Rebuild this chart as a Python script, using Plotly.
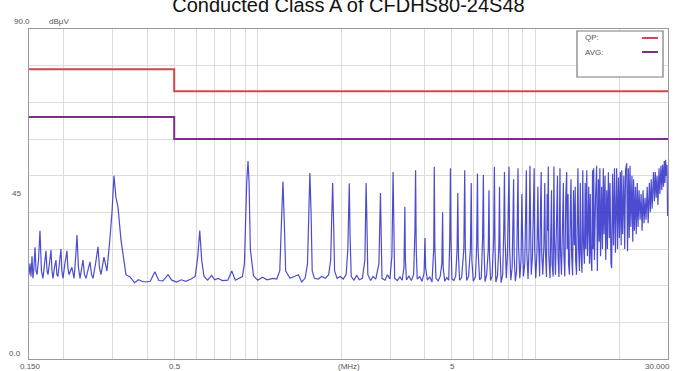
import math
import plotly.graph_objects as go

TITLE = "Conducted Class A of CFDHS80-24S48"

# Measured conducted emission spectrum, 0.15 - 0.33 MHz (MHz, dBuV)
LOW_BAND_FREQ = [
    0.150, 0.1512, 0.1525, 0.1538, 0.155, 0.1563, 0.1577, 0.159, 0.1603, 0.1623,
    0.1643, 0.1663, 0.1684, 0.1705, 0.1727, 0.1742, 0.1756, 0.178, 0.180, 0.1815,
    0.183, 0.1853, 0.1876, 0.189, 0.1907, 0.193, 0.1955, 0.197, 0.1988, 0.202,
    0.2055, 0.207, 0.209, 0.214, 0.218, 0.221, 0.2233, 0.226, 0.229, 0.2347,
    0.2376, 0.2406, 0.2446, 0.2487, 0.252, 0.255, 0.2605, 0.2658, 0.269, 0.2724,
    0.2793, 0.2863, 0.2936, 0.2985, 0.3034, 0.3085, 0.3137, 0.3216,
]
LOW_BAND_LEVEL = [
    23, 26, 22.5, 28, 22, 25, 30.5, 24, 23, 27,
    35, 24, 22, 26, 29.5, 24, 23, 26.5, 29.7, 24,
    22, 25, 27, 23, 22.5, 26, 30, 24, 22, 26,
    29.5, 25, 23, 25, 22, 28, 33.8, 25, 22, 27,
    23, 22, 24, 26.5, 23, 22, 26, 30.6, 25, 23,
    27.8, 24, 33, 40, 50, 44, 41.5, 32.5,
]

# Measured conducted emission spectrum, 0.33 - 30 MHz (MHz, dBuV)
HIGH_BAND_FREQ = [
    0.3351, 0.3466, 0.360, 0.372, 0.382,
    0.395, 0.410, 0.426, 0.440, 0.455, 0.475, 0.490, 0.510, 0.530, 0.550,
    0.575, 0.595, 0.608, 0.618, 0.628, 0.640, 0.660, 0.682, 0.700, 0.720,
    0.745, 0.780, 0.806, 0.830, 0.855, 0.880, 0.895, 0.905, 0.912, 0.922,
    0.930, 0.940, 0.950, 0.965, 1.000, 1.040, 1.080, 1.134, 1.170, 1.200,
    1.215, 1.232, 1.245, 1.260, 1.306, 1.350, 1.400, 1.439, 1.480, 1.510,
    1.525, 1.540, 1.555, 1.570, 1.600, 1.650, 1.700, 1.750, 1.800, 1.830,
    1.845, 1.860, 1.875, 1.890, 1.930, 1.980, 2.030, 2.080, 2.110, 2.135,
    2.150, 2.170, 2.220, 2.270, 2.320, 2.380, 2.430, 2.455, 2.470, 2.490,
    2.550, 2.600, 2.660, 2.730, 2.765, 2.780, 2.800, 2.870, 2.930, 2.990,
    3.040, 3.070, 3.090, 3.110, 3.180, 3.250, 3.310, 3.360, 3.385, 3.400,
    3.430, 3.500, 3.570, 3.640, 3.680, 3.700, 3.720, 3.750, 3.830, 3.900,
    3.970, 4.000, 4.020, 4.080, 4.160, 4.240, 4.300, 4.320, 4.340, 4.380,
    4.460, 4.540, 4.600, 4.630, 4.650, 4.710, 4.790, 4.870, 4.910, 4.940,
    4.960, 5.000, 5.080, 5.160, 5.220, 5.250, 5.280, 5.330, 5.420, 5.520,
    5.560, 5.590, 5.650, 5.740, 5.830, 5.870, 5.900, 5.970, 6.080, 6.140,
    6.180, 6.210, 6.290, 6.380, 6.450, 6.490, 6.520, 6.580, 6.670, 6.760,
    6.800, 6.830, 6.890, 6.980, 7.070, 7.110, 7.150, 7.200, 7.300, 7.380,
    7.420, 7.450, 7.520, 7.620, 7.690, 7.730, 7.770, 7.850, 7.920, 7.980,
    8.030, 8.070, 8.150, 8.240, 8.300, 8.340, 8.380, 8.460, 8.550, 8.620,
    8.650, 8.690, 8.780, 8.870, 8.930, 8.970, 9.050, 9.150, 9.230, 9.270,
    9.310, 9.400, 9.480, 9.550, 9.590, 9.650, 9.750, 9.850, 9.890, 9.930,
    10.02, 10.12, 10.20, 10.25, 10.35, 10.42, 10.48, 10.53, 10.62, 10.72,
    10.80, 10.85, 10.95, 11.02, 11.06, 11.12, 11.17, 11.28, 11.36, 11.42,
    11.47, 11.58, 11.65, 11.70, 11.80, 11.90, 12.00, 12.05, 12.15, 12.25,
    12.30, 12.40, 12.50, 12.60, 12.65, 12.75, 12.85, 12.95, 13.00, 13.10,
    13.15, 13.25, 13.35, 13.42, 13.50, 13.60, 13.70, 13.80, 13.90, 13.95,
    14.05, 14.15, 14.22, 14.30, 14.40, 14.50, 14.58, 14.70, 14.80, 14.88,
    15.00, 15.10, 15.18, 15.30, 15.38, 15.50, 15.55, 15.65, 15.75, 15.82,
    15.95, 16.05, 16.12, 16.20, 16.30, 16.45, 16.60, 16.70, 16.85, 16.95,
    17.05, 17.15, 17.30, 17.42, 17.55, 17.65, 17.80, 17.90, 18.05, 18.15,
    18.30, 18.45, 18.55, 18.70, 18.80, 18.95, 19.10, 19.25, 19.40, 19.60,
    19.75, 19.90, 20.05, 20.20, 20.35, 20.45, 20.60, 20.80, 20.95, 21.10,
    21.30, 21.45, 21.60, 21.75, 21.90, 22.05, 22.25, 22.40, 22.55, 22.70,
    22.90, 23.05, 23.25, 23.40, 23.60, 23.80, 24.00, 24.20, 24.40, 24.60,
    24.80, 25.00, 25.25, 25.45, 25.70, 25.90, 26.10, 26.30, 26.60, 26.80,
    27.00, 27.20, 27.40, 27.60, 27.85, 28.05, 28.30, 28.50, 28.70, 28.90,
    29.10, 29.25, 29.40, 29.60, 29.75, 29.90,
]
HIGH_BAND_LEVEL = [
    23, 22.4, 20.8, 21.6, 21.2,
    21.0, 21.2, 23.8, 21.4, 21.3, 23, 21.5, 21, 21.6, 21.2,
    21.8, 22.5, 28, 35, 27, 22.5, 21.5, 22.8, 21.6, 22,
    21.4, 21.5, 24, 21.5, 22, 22.5, 26, 42, 48, 54,
    48.4, 30, 26.5, 22.7, 21.5, 22.3, 21.6, 22, 21.8, 24,
    36, 48.4, 38, 24, 22, 22.5, 23, 21, 22, 26,
    38, 50.7, 40, 24, 22, 21.8, 22.5, 22, 23, 27,
    38, 48, 37, 24, 22, 22.5, 21.8, 23, 30, 47.9,
    33, 22.5, 21.5, 22.8, 21.6, 22, 27, 48, 38, 23,
    21.4, 22.5, 21.8, 26, 45.3, 33, 22, 21.5, 23, 21.8,
    28, 51, 34, 22, 21.4, 22.4, 21.5, 25, 41.5, 27,
    21.6, 22.6, 21.4, 23, 35, 51.5, 30, 21.8, 22.5, 21.2,
    23.4, 33, 25, 21.5, 22.4, 21, 30, 52.4, 31, 22,
    21.3, 22.6, 26, 40, 25, 21.2, 22.2, 21.5, 32, 52,
    33, 21.8, 21.4, 22.6, 30, 45.3, 28, 21.5, 22.2, 30,
    51.5, 30, 21.4, 22.5, 30, 48, 27, 21.2, 22.4, 31,
    50.6, 30, 21.6, 22.2, 33, 50.2, 31, 21.1, 23, 30,
    46, 28, 21.4, 22.6, 33, 52.4, 30, 21, 22.8, 31,
    47, 30, 20.8, 23, 36, 51, 33, 22, 28, 42,
    52.4, 30, 21.5, 25, 38, 49, 28, 21.2, 24, 44,
    52, 31, 22, 27, 45, 36, 22.5, 26, 46, 51.5,
    29, 21.8, 30, 52.7, 40, 23, 28, 49, 52, 30,
    22, 29, 47, 33, 22.5, 40, 51, 29, 23, 31,
    48, 30, 22.4, 45, 35, 52.5, 28, 22, 40, 46,
    26, 22.5, 52.5, 33, 23, 35, 50, 28, 22.4, 52,
    30, 23, 37, 48, 29, 22.5, 44, 51, 30, 45,
    26, 23, 41, 49, 28, 22.8, 46, 31, 47, 27,
    23, 44, 52, 30, 24, 48, 29, 23.5, 51.5, 32,
    26, 48, 30, 51.5, 28, 40, 47, 26, 45, 29,
    24, 51.5, 30, 52, 27, 44, 52.7, 24, 49, 32,
    52, 28, 47, 30, 52, 34, 50, 27, 46, 30,
    50.9, 33, 48, 26, 24.8, 50.5, 31, 52, 29, 52,
    30, 49.5, 33, 51, 31, 51.5, 34, 50, 30, 51.5,
    53.4, 29.4, 52, 33, 52.7, 36, 50, 32, 49, 35,
    47, 34, 48, 36, 46, 38, 45, 35, 46, 37,
    44, 38, 47, 37, 48, 40, 49, 41, 51, 43,
    51, 44, 50, 42, 52, 45, 52.7, 46, 53, 47,
    54, 48, 54.3, 50, 53, 39,
]

# Limit lines
QP_FREQ = [0.15, 0.5, 0.5, 30.0]
QP_LIMIT = [79, 79, 73, 73]
AVG_FREQ = [0.15, 0.5, 0.5, 30.0]
AVG_LIMIT = [66, 66, 60, 60]

X_TICK_VALUES = [0.15, 0.5, 5, 30]
X_TICK_TEXT = ["0.150", "0.5", "5", "30.000"]
Y_TICK_VALUES = [90, 45, 0]
Y_TICK_TEXT = ["90.0", "45", "0.0"]
Y_UNIT = "dBμV"
X_UNIT = "(MHz)"

QP_COLOR = "rgb(212,70,72)"
AVG_COLOR = "rgb(126,46,138)"
TRACE_COLOR = "rgba(45,45,200,0.85)"
GRID_COLOR = "#dcdcdc"
LABEL_FONT = dict(family="Liberation Sans, Arial, sans-serif", size=8, color="#555555")

W, H = 681, 371
ML, MR, MT, MB = 29, 13, 29, 12
PW, PH = W - ML - MR, H - MT - MB


def px_x(p):
    return (p - ML) / PW


def px_y(p):
    return (H - MB - p) / PH


freq = LOW_BAND_FREQ + HIGH_BAND_FREQ
level = LOW_BAND_LEVEL + HIGH_BAND_LEVEL

fig = go.Figure()
fig.add_trace(go.Scatter(x=freq, y=level, mode="lines",
                         line=dict(color=TRACE_COLOR, width=1.2), name="Scan",
                         showlegend=False))
fig.add_trace(go.Scatter(x=QP_FREQ, y=QP_LIMIT, mode="lines",
                         line=dict(color=QP_COLOR, width=2), name="QP",
                         showlegend=False))
fig.add_trace(go.Scatter(x=AVG_FREQ, y=AVG_LIMIT, mode="lines",
                         line=dict(color=AVG_COLOR, width=2), name="AVG",
                         showlegend=False))

annotations = []
# y-axis labels
y_shift = {90: 8, 45: 1, 0: 6}
y_right = {90: 32, 45: 23, 0: 23}
for v, t in zip(Y_TICK_VALUES, Y_TICK_TEXT):
    annotations.append(dict(x=px_x(y_right[v]), xref="paper", y=v, yref="y",
                            text=t, showarrow=False, xanchor="right",
                            yanchor="middle", yshift=y_shift[v], font=LABEL_FONT))
annotations.append(dict(x=px_x(47), xref="paper", y=90, yref="y", text=Y_UNIT,
                        showarrow=False, xanchor="left", yanchor="middle",
                        yshift=8, font=LABEL_FONT))
# x-axis labels
for v, t in zip(X_TICK_VALUES, X_TICK_TEXT):
    anchor = "right" if v == X_TICK_VALUES[-1] else "center"
    shift = 4 if v == X_TICK_VALUES[-1] else 1
    annotations.append(dict(x=math.log10(v), xref="x", y=0, yref="paper",
                            text=t, showarrow=False, xanchor=anchor,
                            yanchor="top", xshift=shift, yshift=-1, font=LABEL_FONT))
annotations.append(dict(x=0.5, xref="paper", y=0, yref="paper", text=X_UNIT,
                        showarrow=False, xanchor="center", yanchor="top",
                        yshift=-1, font=LABEL_FONT))
# legend entries
for name, ypx in (("QP:", 38), ("AVG:", 52)):
    annotations.append(dict(x=px_x(583), xref="paper", y=px_y(ypx), yref="paper",
                            text=name, showarrow=False, xanchor="left",
                            yanchor="middle", font=LABEL_FONT))

shapes = [
    dict(type="rect", xref="paper", yref="paper", x0=px_x(577), x1=px_x(663),
         y0=px_y(77), y1=px_y(31), line=dict(color="#7a7a7a", width=1.2),
         fillcolor="white", layer="above"),
    dict(type="line", xref="paper", yref="paper", x0=px_x(642), x1=px_x(658),
         y0=px_y(38), y1=px_y(38), line=dict(color=QP_COLOR, width=2), layer="above"),
    dict(type="line", xref="paper", yref="paper", x0=px_x(642), x1=px_x(658),
         y0=px_y(52), y1=px_y(52), line=dict(color=AVG_COLOR, width=2), layer="above"),
]

fig.update_layout(
    width=W, height=H,
    margin=dict(l=ML, r=MR, t=MT, b=MB, pad=0),
    paper_bgcolor="white", plot_bgcolor="white",
    title=dict(text=TITLE, x=0.5, xref="paper", xanchor="center",
               y=1 - 5 / H, yref="container", yanchor="middle",
               font=dict(family="Liberation Sans, Arial, sans-serif", size=20, color="#111111")),
    xaxis=dict(type="log", range=[math.log10(0.15), math.log10(30)],
               dtick="D1", showticklabels=False, ticks="",
               showgrid=True, gridcolor=GRID_COLOR, gridwidth=1,
               showline=True, linecolor="#9a9a9a", linewidth=1, mirror=True,
               zeroline=False),
    yaxis=dict(range=[0, 90], dtick=10, showticklabels=False, ticks="",
               showgrid=True, gridcolor=GRID_COLOR, gridwidth=1,
               showline=True, linecolor="#9a9a9a", linewidth=1, mirror=True,
               zeroline=False),
    annotations=annotations,
    shapes=shapes,
    showlegend=False,
)

fig.write_html("out.html")
